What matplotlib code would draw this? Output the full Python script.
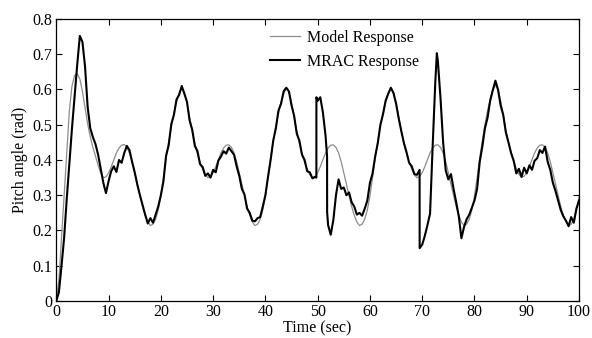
import matplotlib
matplotlib.use("Agg")
import matplotlib.pyplot as plt
import numpy as np

plt.rcParams['font.family'] = ['Liberation Serif', 'DejaVu Serif']
plt.rcParams['font.size'] = 11.5

# model reference response, sampled every 0.5 s
model_t = np.arange(0, 100.5, 0.5)
model_y = [
    0.000, 0.060, 0.180, 0.300, 0.420, 0.540, 0.610, 0.640, 0.645, 0.630,
    0.595, 0.548, 0.502, 0.466, 0.436, 0.410, 0.385, 0.363, 0.350, 0.352,
    0.363, 0.380, 0.400, 0.420, 0.434, 0.442, 0.444, 0.436, 0.420, 0.395,
    0.363, 0.330, 0.298, 0.268, 0.243, 0.224, 0.214, 0.218, 0.232, 0.258,
    0.298, 0.350, 0.405, 0.452, 0.495, 0.533, 0.565, 0.590, 0.603, 0.592,
    0.562, 0.522, 0.482, 0.448, 0.418, 0.394, 0.374, 0.358, 0.350, 0.353,
    0.364, 0.381, 0.401, 0.420, 0.434, 0.442, 0.443, 0.436, 0.420, 0.395,
    0.363, 0.330, 0.298, 0.268, 0.243, 0.224, 0.214, 0.218, 0.232, 0.258,
    0.298, 0.350, 0.405, 0.452, 0.495, 0.533, 0.565, 0.590, 0.603, 0.592,
    0.562, 0.522, 0.482, 0.448, 0.418, 0.394, 0.374, 0.358, 0.350, 0.353,
    0.364, 0.381, 0.401, 0.420, 0.434, 0.442, 0.443, 0.436, 0.420, 0.395,
    0.363, 0.330, 0.298, 0.268, 0.243, 0.224, 0.214, 0.218, 0.232, 0.258,
    0.298, 0.350, 0.405, 0.452, 0.495, 0.533, 0.565, 0.590, 0.603, 0.592,
    0.562, 0.522, 0.482, 0.448, 0.418, 0.394, 0.374, 0.358, 0.350, 0.353,
    0.364, 0.381, 0.401, 0.420, 0.434, 0.442, 0.443, 0.436, 0.420, 0.395,
    0.363, 0.330, 0.298, 0.268, 0.243, 0.224, 0.214, 0.218, 0.232, 0.258,
    0.298, 0.350, 0.405, 0.455, 0.500, 0.540, 0.572, 0.598, 0.612, 0.600,
    0.568, 0.526, 0.485, 0.450, 0.420, 0.395, 0.375, 0.359, 0.351, 0.354,
    0.364, 0.381, 0.401, 0.420, 0.434, 0.442, 0.443, 0.436, 0.420, 0.395,
    0.363, 0.330, 0.298, 0.268, 0.243, 0.224, 0.214, 0.218, 0.232, 0.258,
    0.295,
]

# MRAC closed loop response (with the disturbances at ~50 s and ~70 s)
mrac_t = [
    0.0, 0.5, 1.0, 1.5, 2.0, 2.5, 3.0, 3.5, 4.0, 4.5,
    5.0, 5.5, 6.0, 6.5, 7.0, 7.5, 8.0, 8.5, 9.0, 9.5,
    10.0, 10.5, 11.0, 11.5, 12.0, 12.5, 13.0, 13.5, 14.0, 14.5,
    15.0, 15.5, 16.0, 16.5, 17.0, 17.5, 18.0, 18.5, 19.0, 19.5,
    20.0, 20.5, 21.0, 21.5, 22.0, 22.5, 23.0, 23.5, 24.0, 24.5,
    25.0, 25.5, 26.0, 26.5, 27.0, 27.5, 28.0, 28.5, 29.0, 29.5,
    30.0, 30.5, 31.0, 31.5, 32.0, 32.5, 33.0, 33.5, 34.0, 34.5,
    35.0, 35.5, 36.0, 36.5, 37.0, 37.5, 38.0, 38.5, 39.0, 39.5,
    40.0, 40.5, 41.0, 41.5, 42.0, 42.5, 43.0, 43.5, 44.0, 44.5,
    45.0, 45.5, 46.0, 46.5, 47.0, 47.5, 48.0, 48.5, 49.0, 49.5,
    49.75, 49.76, 50.0, 50.5, 51.0, 51.5, 51.8, 51.81, 52.0, 52.5,
    53.0, 53.5, 54.0, 54.5, 55.0, 55.5, 56.0, 56.5, 57.0, 57.5,
    58.0, 58.5, 59.0, 59.5,
    60.0, 60.5, 61.0, 61.5, 62.0, 62.5, 63.0, 63.5, 64.0, 64.5,
    65.0, 65.5, 66.0, 66.5, 67.0, 67.5, 68.0, 68.5, 69.0, 69.5,
    69.51, 70.0, 70.5, 71.0, 71.5, 72.0, 72.5, 72.8, 73.0, 73.5,
    74.0, 74.5, 75.0, 75.5, 76.0, 76.5, 77.0, 77.5, 78.0, 78.5,
    79.0, 79.5,
    80.0, 80.5, 81.0, 81.5, 82.0, 82.5, 83.0, 83.5, 84.0, 84.5,
    85.0, 85.5, 86.0, 86.5, 87.0, 87.5, 88.0, 88.5, 89.0, 89.5,
    90.0, 90.5, 91.0, 91.5, 92.0, 92.5, 93.0, 93.5, 94.0, 94.5,
    95.0, 95.5, 96.0, 96.5, 97.0, 97.5, 98.0, 98.5, 99.0, 99.5,
    100.0,
]
mrac_y = [
    0.000, 0.025, 0.100, 0.180, 0.290, 0.390, 0.490, 0.580, 0.670, 0.752,
    0.735, 0.665, 0.550, 0.490, 0.465, 0.445, 0.415, 0.375, 0.335, 0.306,
    0.340, 0.368, 0.382, 0.366, 0.400, 0.392, 0.420, 0.440, 0.428, 0.395,
    0.365, 0.330, 0.300, 0.272, 0.245, 0.220, 0.235, 0.222, 0.245, 0.268,
    0.300, 0.340, 0.412, 0.442, 0.502, 0.528, 0.572, 0.585, 0.610, 0.588,
    0.565, 0.512, 0.486, 0.440, 0.425, 0.388, 0.380, 0.355, 0.362, 0.350,
    0.372, 0.365, 0.398, 0.410, 0.425, 0.418, 0.435, 0.425, 0.415, 0.382,
    0.355, 0.318, 0.302, 0.262, 0.250, 0.228, 0.226, 0.235, 0.238, 0.268,
    0.300, 0.352, 0.400, 0.455, 0.490, 0.540, 0.560, 0.595, 0.605, 0.595,
    0.555, 0.525, 0.475, 0.455, 0.415, 0.400, 0.368, 0.365, 0.348, 0.352,
    0.350, 0.578, 0.568, 0.578, 0.535, 0.470, 0.410, 0.252, 0.215, 0.188,
    0.230, 0.300, 0.345, 0.318, 0.322, 0.300, 0.308, 0.280, 0.268, 0.245,
    0.250, 0.242, 0.262, 0.285,
    0.335, 0.362, 0.410, 0.448, 0.500, 0.530, 0.568, 0.588, 0.605, 0.590,
    0.560, 0.518, 0.482, 0.448, 0.422, 0.392, 0.382, 0.360, 0.358, 0.372,
    0.150, 0.160, 0.185, 0.215, 0.248, 0.440, 0.620, 0.703, 0.680, 0.575,
    0.450, 0.370, 0.345, 0.360, 0.318, 0.280, 0.240, 0.178, 0.210, 0.232,
    0.245, 0.265,
    0.285, 0.318, 0.395, 0.438, 0.490, 0.520, 0.568, 0.598, 0.625, 0.600,
    0.555, 0.528, 0.478, 0.450, 0.420, 0.398, 0.362, 0.375, 0.352, 0.378,
    0.362, 0.385, 0.372, 0.398, 0.405, 0.428, 0.420, 0.438, 0.395, 0.372,
    0.335, 0.312, 0.285, 0.258, 0.240, 0.228, 0.212, 0.238, 0.222, 0.262,
    0.285,
]

xticks = [0, 10, 20, 30, 40, 50, 60, 70, 80, 90, 100]
yticks = [0, 0.1, 0.2, 0.3, 0.4, 0.5, 0.6, 0.7, 0.8]
ytick_labels = ['0', '0.1', '0.2', '0.3', '0.4', '0.5', '0.6', '0.7', '0.8']

fig = plt.figure(figsize=(5.92, 3.38), dpi=100)
ax = fig.add_axes([0.0951, 0.1095, 0.883, 0.8343])

ax.plot(model_t, model_y, color='#8c8c8c', lw=0.9, label='Model Response')
ax.plot(mrac_t, mrac_y, color='black', lw=1.5, label='MRAC Response')

ax.set_xlim(0, 100)
ax.set_ylim(0, 0.8)
ax.set_xticks(xticks)
ax.set_yticks(yticks)
ax.set_yticklabels(ytick_labels)
ax.tick_params(direction='in', top=True, right=True, length=4, width=0.8, pad=3)
ax.tick_params(axis='x', pad=2.5)
for s in ax.spines.values():
    s.set_linewidth(0.9)

ax.set_xlabel('Time (sec)', labelpad=0)
ax.set_ylabel('Pitch angle (rad)', labelpad=3)

ax.legend(loc='upper left', bbox_to_anchor=(0.409, 0.962), frameon=False,
          borderpad=0, borderaxespad=0, handlelength=1.87, handletextpad=0.45,
          labelspacing=0.5)

fig.savefig('out.png', dpi=100)
